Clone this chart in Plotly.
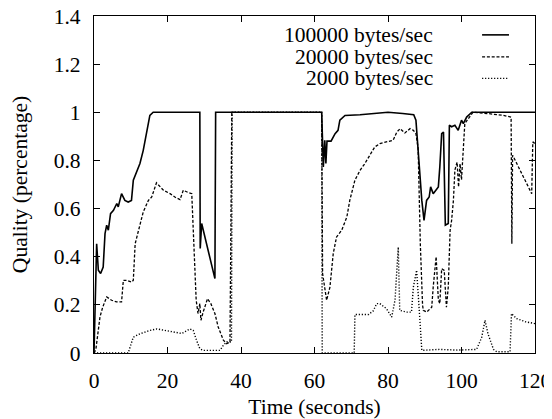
import plotly.graph_objects as go

# ---------------- data ----------------
t_100k = [0, 0.72, 1.18, 1.8, 2.5, 3.0, 3.45, 3.9, 4.5, 5.3, 6.2, 6.6, 7.5, 8.4, 9.3,
          10.2, 10.7, 11.6, 12.5, 13.4, 14.3, 15.2, 16.1, 28.8, 28.9, 29.3, 32.9, 33.1,
          61.95, 62.4, 62.8, 63.1, 63.4, 64.5, 65.6, 66.4, 66.9, 68.3, 72.4, 76.0, 80.0,
          84.0, 87.0, 87.6, 88.5, 89.2, 89.8, 90.5, 91.2, 91.6, 92.3, 93.1, 93.7, 94.1,
          94.6, 95.1, 95.6, 96.4, 96.7, 97.3, 98.2, 99.1, 100.0, 100.5, 101.4, 102.8, 120]
q_100k = [0, 0.454, 0.344, 0.33, 0.357, 0.496, 0.531, 0.51, 0.579, 0.593, 0.621, 0.607,
          0.662, 0.634, 0.627, 0.634, 0.718, 0.752, 0.787, 0.842, 0.911, 0.987, 1.0, 1.0,
          0.434, 0.538, 0.309, 1.0,
          1.0, 0.773, 0.884, 0.787, 0.88, 0.88, 0.911, 0.925, 0.967, 0.987, 0.99, 0.996,
          1.0, 0.995, 0.99, 0.967, 0.773, 0.634, 0.551, 0.634, 0.648, 0.69, 0.662, 0.676,
          0.69, 0.773, 0.911, 0.918, 0.531, 0.538, 0.946, 0.94, 0.946, 0.925, 0.967,
          0.953, 0.98, 1.0, 1.0]

t_20k = [0, 0.5, 1.63, 2.36, 3.45, 4.8, 6.17, 7.5, 7.98, 8.9, 10.25, 10.7, 11.2, 12.5,
         13.4, 14.8, 15.7, 17.0, 18.0, 18.9, 20.7, 22.0, 23.4, 24.3, 25.6, 26.6, 27.8,
         28.3, 28.8, 29.1, 29.7, 30.9, 31.8, 32.9, 33.8, 35.2, 36.1, 37.0, 37.5,
         61.95, 62.2, 62.9, 63.3, 64.2, 65.1, 66.0, 67.4, 68.8, 69.6, 71.0, 72.4, 73.7,
         75.1, 76.4, 77.8, 79.6, 81.4, 82.4, 83.3, 84.6, 86.0, 86.9, 87.6, 88.2, 88.8,
         89.4, 89.6, 90.5, 91.9, 92.3, 93.1, 93.7, 94.1, 94.6, 95.3, 95.9, 96.4, 96.9,
         97.3, 97.8, 98.2, 98.8, 99.2, 99.6, 100.0, 100.9, 101.5, 103.1, 107.0, 111.4,
         113.5, 113.7, 113.9, 114.3, 119.1, 119.4, 120]
q_20k = [0, 0.014, 0.15, 0.19, 0.233, 0.219, 0.212, 0.212, 0.302, 0.302, 0.295, 0.302,
         0.454, 0.538, 0.586, 0.634, 0.648, 0.707, 0.69, 0.676, 0.662, 0.648, 0.637,
         0.676, 0.667, 0.662, 0.22, 0.164, 0.205, 0.136, 0.17, 0.226, 0.205, 0.164,
         0.108, 0.053, 0.039, 0.045, 1.0,
         1.0, 0.33, 0.247, 0.219, 0.274, 0.413, 0.482, 0.51, 0.565, 0.634, 0.718, 0.759,
         0.787, 0.822, 0.856, 0.87, 0.877, 0.884, 0.918, 0.932, 0.914, 0.932, 0.925,
         0.911, 0.85, 0.45, 0.2, 0.177, 0.17, 0.19, 0.274, 0.4, 0.22, 0.205, 0.35,
         0.343, 0.19, 0.274, 0.51, 0.55, 0.634, 0.76, 0.793, 0.69, 0.786, 0.72, 0.953,
         0.967, 1.0, 0.995, 0.987, 0.98, 0.454, 0.821, 0.81, 0.662, 0.877, 0.87]

t_2k = [0, 9.3, 10.7, 12.5, 13.9, 15.2, 17.1, 18.9, 21.6, 23.9, 26.1, 27.0, 27.9, 28.8,
        29.7, 34.3, 35.2, 36.1, 37.4, 37.6, 61.95, 62.1, 70.8, 71.0, 74.7, 76.0, 76.9,
        77.8, 79.6, 81.0, 81.9, 82.8, 83.2, 85.0, 86.4, 86.9, 87.8, 88.5, 89.2, 94.0,
        99.0, 104.1, 105.5, 106.4, 107.2, 108.7, 109.6, 113.2, 113.6, 115.0, 117.4, 120]
q_2k = [0, 0, 0.066, 0.08, 0.087, 0.094, 0.1, 0.095, 0.088, 0.081, 0.1, 0.094, 0.053,
        0.018, 0.011, 0.011, 0.032, 0.046, 0.046, 1.0, 1.0, 0.0, 0.0, 0.16, 0.16, 0.175,
        0.205, 0.205, 0.184, 0.149, 0.219, 0.44, 0.177, 0.17, 0.17, 0.274, 0.344, 0.19,
        0.011, 0.015, 0.012, 0.015, 0.065, 0.136, 0.08, 0.015, 0.005, 0.005, 0.164,
        0.143, 0.13, 0.122]

series_names = ["100000 bytes/sec", "20000 bytes/sec", "2000 bytes/sec"]
x_ticks = [0, 20, 40, 60, 80, 100, 120]
y_ticks = [0, 0.2, 0.4, 0.6, 0.8, 1, 1.2, 1.4]
y_tick_text = ["0", "0.2", "0.4", "0.6", "0.8", "1", "1.2", "1.4"]

# ---------------- styles ----------------
FONT = "Liberation Serif, Times New Roman, serif"
FS = 21.5
styles = [dict(color="black", width=1.6, dash="solid"),
          dict(color="black", width=1.3, dash="3px,1.8px"),
          dict(color="black", width=1.4, dash="1.2px,1.8px")]

fig = go.Figure()
for name, xs, ys, st in zip(series_names, [t_100k, t_20k, t_2k],
                            [q_100k, q_20k, q_2k], styles):
    fig.add_trace(go.Scatter(x=xs, y=ys, mode="lines", name=name, line=st,
                             showlegend=False))

# gnuplot-style key: text right-aligned, sample to the right
key_rows_y = [0.944, 0.879, 0.815]
for name, yk, st in zip(series_names, key_rows_y, styles):
    fig.add_annotation(x=0.773, y=yk, xref="paper", yref="paper", text=name,
                       showarrow=False, xanchor="right", yanchor="middle",
                       font=dict(family=FONT, size=FS, color="black"))
    fig.add_shape(type="line", xref="paper", yref="paper", x0=0.880, x1=0.941,
                  y0=yk, y1=yk, line=st)

axis_common = dict(showline=True, linecolor="black", linewidth=1.3, mirror="ticks",
                   ticks="inside", ticklen=6, tickcolor="black", tickwidth=1.2,
                   showgrid=False, zeroline=False, ticklabeloverflow="allow",
                   tickfont=dict(family=FONT, size=FS, color="black"))

fig.update_xaxes(range=[0, 120], tickvals=x_ticks,
                 title=dict(text="Time (seconds)", font=dict(family=FONT, size=FS,
                                                             color="black"), standoff=8),
                 ticklabelstandoff=8,
                 **axis_common)
fig.update_yaxes(range=[0, 1.4], tickvals=y_ticks, ticktext=y_tick_text,
                 title=dict(text="Quality (percentage)", font=dict(family=FONT, size=FS,
                                                                   color="black"),
                            standoff=21),
                 ticklabelstandoff=8,
                 **axis_common)

# the page adds an 8px body margin, so the figure is 8px smaller than the window
fig.update_layout(width=544, height=411, plot_bgcolor="white", paper_bgcolor="white",
                  margin=dict(l=86, r=17, t=8, b=66, autoexpand=False),
                  font=dict(family=FONT, size=FS, color="black"))

fig.write_html("out.html")
